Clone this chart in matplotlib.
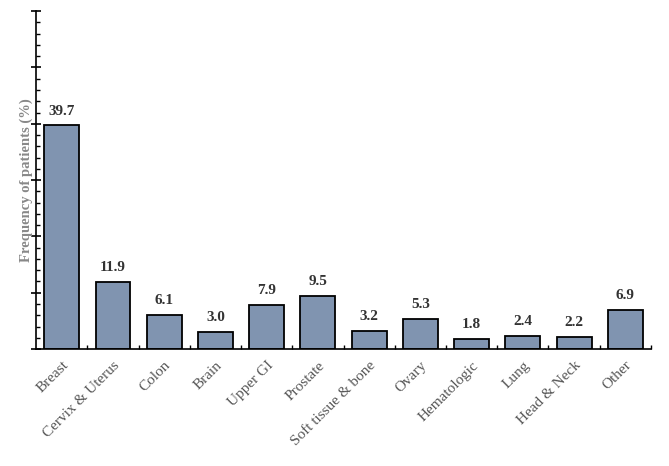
import matplotlib
matplotlib.use('Agg')
import matplotlib.pyplot as plt
from matplotlib.ticker import MultipleLocator, FixedLocator
import numpy as np

categories = ["Breast", "Cervix & Uterus", "Colon", "Brain", "Upper GI", "Prostate",
              "Soft tissue & bone", "Ovary", "Hematologic", "Lung", "Head & Neck", "Other"]
values = [39.7, 11.9, 6.1, 3.0, 7.9, 9.5, 3.2, 5.3, 1.8, 2.4, 2.2, 6.9]

plt.rcParams['font.family'] = ['Liberation Serif', 'DejaVu Serif']

fig = plt.figure(figsize=(6.69, 4.66), dpi=100)
ax = fig.add_axes([0.054, 0.251, 0.919, 0.725])

x = np.arange(1, len(values) + 1)
ax.bar(x, values, width=0.68, color='#8094b0', edgecolor='black', linewidth=1.3)

for xi, v in zip(x, values):
    ax.text(xi, v + 1.4, f"{v:.1f}", ha='center', va='bottom', fontsize=11,
            fontweight='bold', color='#333333')

ax.set_xlim(0.5, 12.5)
ax.set_ylim(0, 60)

ax.spines['top'].set_visible(False)
ax.spines['right'].set_visible(False)
ax.spines['left'].set_linewidth(1.2)
ax.spines['bottom'].set_linewidth(1.2)

ax.yaxis.set_major_locator(MultipleLocator(10))
ax.yaxis.set_minor_locator(MultipleLocator(2))
ax.tick_params(axis='y', which='major', direction='inout', length=7, width=1.2, labelleft=False)
ax.tick_params(axis='y', which='minor', direction='in', length=3, width=1.0)

ax.set_xticks(x)
ax.set_xticklabels(categories, rotation=45, ha='right', rotation_mode='anchor',
                   fontsize=11, color='#555555')
ax.xaxis.set_minor_locator(FixedLocator(np.arange(1.5, 12.6, 1.0)))
ax.tick_params(axis='x', which='major', length=0, pad=7)
ax.tick_params(axis='x', which='minor', direction='in', length=3, width=1.0)

ax.set_ylabel("Frequency of patients (%)", fontsize=10.5, fontweight='bold', color='#888888', labelpad=-1)

fig.savefig("out.png", dpi=100)
